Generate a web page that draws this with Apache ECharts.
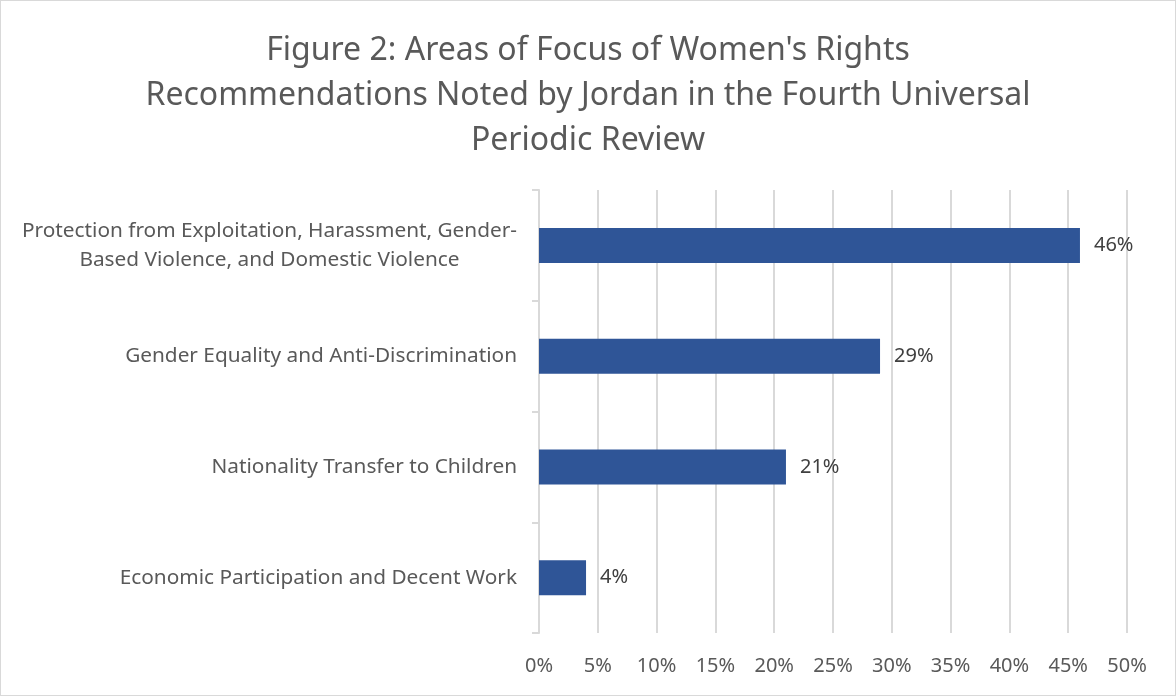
<!DOCTYPE html>
<html>
<head>
<meta charset="utf-8">
<script src="https://cdn.jsdelivr.net/npm/echarts@6/dist/echarts.min.js"></script>
<style>
  html, body { margin: 0; padding: 0; background: #fff; }
  #chart { width: 1176px; height: 696px; box-sizing: border-box; border: 1px solid #d9d9d9; }
</style>
</head>
<body>
<div id="chart"></div>
<script>
  // data
  const categories = [
    'Protection from Exploitation, Harassment, Gender-\nBased Violence, and Domestic Violence',
    'Gender Equality and Anti-Discrimination',
    'Nationality Transfer to Children',
    'Economic Participation and Decent Work'
  ];
  const shares = [46, 29, 21, 4];
  const titleText = "Figure 2: Areas of Focus of Women's Rights\nRecommendations Noted by Jordan in the Fourth Universal\nPeriodic Review";

  const FONT = '"Noto Sans", sans-serif';
  const GREY = '#595959';

  const chart = echarts.init(document.getElementById('chart'));

  let option = {
    animation: false,
    textStyle: { fontFamily: FONT },
    title: {
      text: titleText,
      left: 'center',
      top: 22,
      textStyle: {
        fontFamily: FONT,
        fontSize: 32,
        fontWeight: 'normal',
        color: GREY,
        lineHeight: 45
      }
    },
    grid: {
      left: 538,
      right: 48,
      top: 189,
      bottom: 62,
      containLabel: false
    },
    xAxis: {
      type: 'value',
      min: 0,
      max: 50,
      interval: 5,
      axisLine: { show: false },
      axisTick: { show: false },
      splitLine: { lineStyle: { color: '#d9d9d9', width: 2 } },
      axisLabel: {
        formatter: '{value}%',
        fontFamily: FONT,
        fontSize: 20,
        color: GREY,
        margin: 23
      }
    },
    yAxis: {
      type: 'category',
      data: categories,
      inverse: true,
      axisLine: { lineStyle: { color: '#d9d9d9', width: 2 } },
      axisTick: { show: true, length: 7, lineStyle: { color: '#d9d9d9', width: 2 } },
      axisLabel: {
        margin: 22,
        align: 'right',
        formatter: function (v) {
          return v.split('\n').map(s => '{c|' + s + '}').join('\n');
        },
        rich: {
          c: {
            align: 'center',
            fontFamily: FONT,
            fontSize: 20.8,
            color: GREY,
            lineHeight: 29
          }
        }
      }
    },
    series: [{
      type: 'bar',
      data: shares,
      barWidth: 35,
      itemStyle: { color: '#2f5597' },
      label: {
        show: true,
        position: 'right',
        distance: 14,
        formatter: '{c}%',
        fontFamily: FONT,
        fontSize: 20,
        color: '#404040'
      }
    }]
  };

  chart.setOption(option);
</script>
</body>
</html>
